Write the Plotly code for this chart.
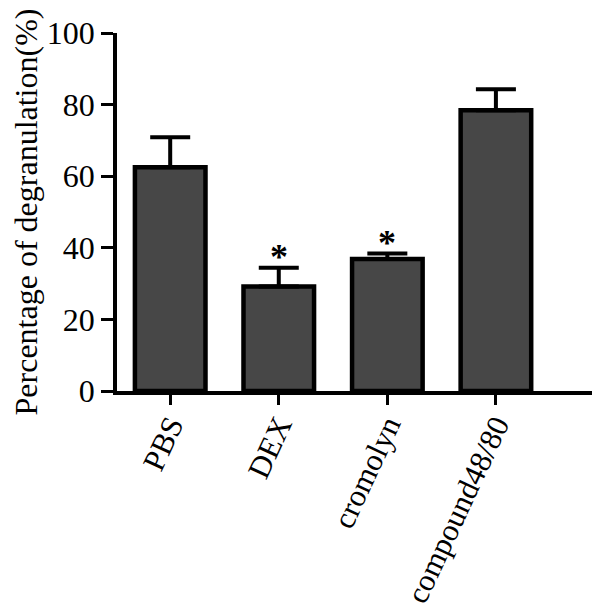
import plotly.graph_objects as go

categories = ["PBS", "DEX", "cromolyn", "compound48/80"]
means = [62.5, 29.2, 36.9, 78.4]
errors = [8.4, 5.2, 1.5, 5.9]
marks = ["", "*", "*", ""]
y_ticks = [0, 20, 40, 60, 80, 100]

FONT = "Liberation Serif"
FS = 32

fig = go.Figure()
fig.add_trace(go.Bar(
    x=categories, y=means, width=0.65,
    marker=dict(color="#474747", line=dict(color="black", width=4.5)),
    error_y=dict(type="data", symmetric=False, array=errors,
                 arrayminus=[0] * len(errors), color="black",
                 thickness=4, width=20),
))

for c, m, e, s in zip(categories, means, errors, marks):
    if s:
        fig.add_annotation(x=c, y=m + e, text="<b>" + s + "</b>", showarrow=False,
                           yanchor="bottom", yshift=-11,
                           font=dict(family=FONT, size=36, color="black"))

# page body has an 8px margin, so the figure is shrunk by 8px and margins shifted
fig.update_layout(
    width=592, height=604,
    margin=dict(l=109, r=8, t=25, b=221),
    plot_bgcolor="white", paper_bgcolor="white",
    showlegend=False,
    font=dict(family=FONT, size=FS, color="black"),
)
fig.update_xaxes(
    range=[-0.49, 3.885], showline=True, linecolor="black", linewidth=3.5,
    ticks="outside", ticklen=10, tickwidth=3, tickcolor="black",
    tickangle=-65, tickfont=dict(family=FONT, size=31, color="black"),
    ticklabelstandoff=-10,
    showgrid=False, zeroline=False, automargin=False,
)
fig.update_yaxes(
    range=[0, 100], tickvals=y_ticks, showline=True, linecolor="black",
    linewidth=3.5, ticks="outside", ticklen=12, tickwidth=3, tickcolor="black",
    tickfont=dict(family=FONT, size=FS, color="black"),
    title=dict(text="Percentage of degranulation(%)",
               font=dict(family=FONT, size=FS, color="black"), standoff=1),
    showgrid=False, zeroline=False, automargin=False,
)

fig.write_html("out.html")
